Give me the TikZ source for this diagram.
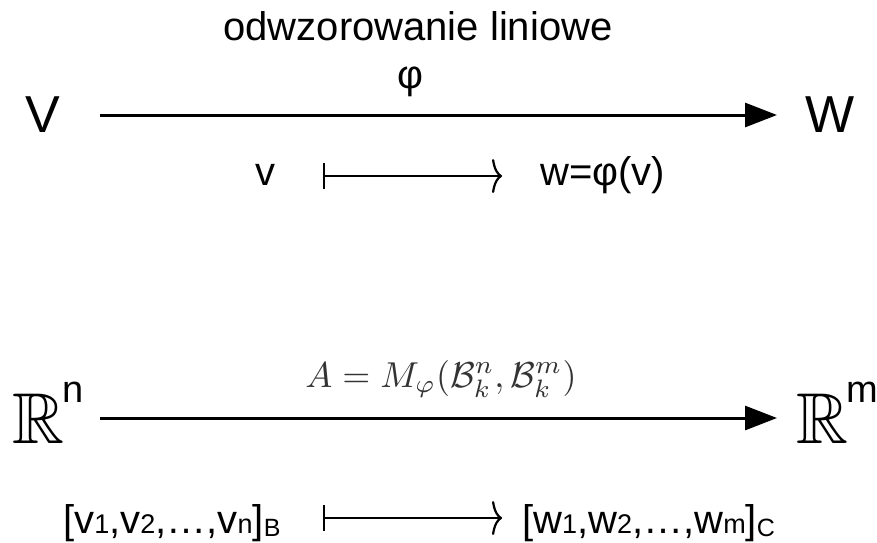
\documentclass[tikz,border=0pt]{standalone}
\usepackage{amssymb}
\usepackage{graphicx}
\usepackage{fontspec}
\setmainfont{Liberation Sans}
\usetikzlibrary{arrows.meta}
\tikzset{
  lbl/.style={inner sep=0pt, anchor=center},
  big/.style={lbl, font=\fontsize{52}{56}\selectfont},
  mid/.style={lbl, font=\fontsize{40}{44}\selectfont},
  mainarrow/.style={line width=3pt, -{Triangle[length=32pt,width=24pt]}},
  mapsarrow/.style={line width=2.4pt, {Bar[width=26pt,line width=2.4pt]}-{Computer Modern Rightarrow[length=10pt,width=34pt,line width=2.2pt]}},
}
\newcommand{\sbd}[1]{{\fontsize{27}{29}\selectfont #1}}
\newcommand{\sbl}[1]{\raisebox{-3pt}{\fontsize{25}{27}\selectfont #1}}
\begin{document}
\begin{tikzpicture}[x=1pt,y=-1pt]
\useasboundingbox (0,0) rectangle (877,542);
% top part
\node[mid, anchor=base] (title) at (418,40) {odwzorowanie liniowe};
\node[mid] (phi) at (410,82) {φ};
\node[big, anchor=base] (V) at (43,132) {V};
\node[big, anchor=base] (W) at (830,132) {W};
\coordinate (a1) at (100,115);
\coordinate (a2) at (777,115);
\draw[mainarrow] (a1) -- (a2);
\node[mid, anchor=base] (v) at (265,185) {v};
\node[mid, anchor=base west] (w) at (540,185) {w=φ(v)};
\coordinate (m1) at (323,176);
\coordinate (m2) at (502,176);
\draw[mapsarrow] (m1) -- (m2);
% bottom part
\node[lbl, anchor=base, text=black!80] (A) at (441,387) {\scalebox{3.6}{$A=M_\varphi(\mathcal{B}^n_k,\mathcal{B}^m_k)$}};
\node[lbl, anchor=base west] (Rn) at (12,443) {\scalebox{7.2}{$\mathbb{R}$}};
\node[lbl, anchor=base west, font=\fontsize{38}{42}\selectfont] (n) at (62,402) {n};
\node[lbl, anchor=base west] (Rm) at (796,443) {\scalebox{7.2}{$\mathbb{R}$}};
\node[lbl, anchor=base west, font=\fontsize{38}{42}\selectfont] (m) at (846,402) {m};
\coordinate (b1) at (100,418);
\coordinate (b2) at (777,418);
\draw[mainarrow] (b1) -- (b2);
\node[mid, anchor=base west] (vv) at (63,533) {[v\sbd{1},v\sbd{2},…,v\sbd{n}]\sbl{B}};
\node[mid, anchor=base west] (ww) at (522,533) {[w\sbd{1},w\sbd{2},…,w\sbd{m}]\sbl{C}};
\coordinate (c1) at (323,518);
\coordinate (c2) at (502,518);
\draw[mapsarrow] (c1) -- (c2);
\end{tikzpicture}
\end{document}
